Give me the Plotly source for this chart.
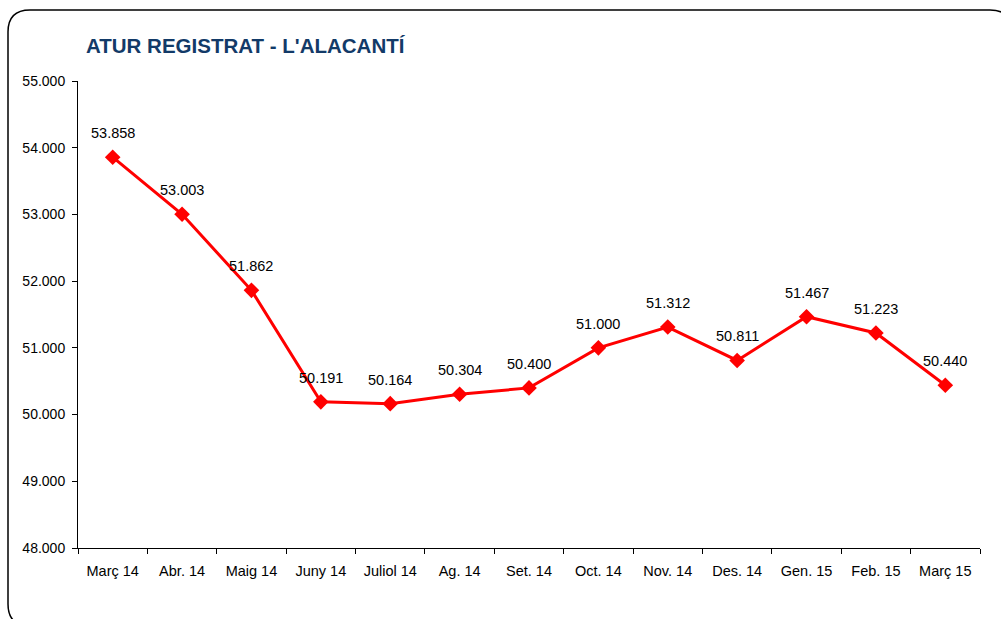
import plotly.graph_objects as go

# Registered unemployment, l'Alacantí, monthly
months = ["Març 14", "Abr. 14", "Maig 14", "Juny 14", "Juliol 14", "Ag. 14", "Set. 14",
          "Oct. 14", "Nov. 14", "Des. 14", "Gen. 15", "Feb. 15", "Març 15"]
atur = [53858, 53003, 51862, 50191, 50164, 50304, 50400, 51000, 51312, 50811, 51467, 51223, 50440]
y_ticks = [48000, 49000, 50000, 51000, 52000, 53000, 54000, 55000]


def fmt(v):
    return f"{v:,}".replace(",", ".")


W, H = 1001, 619
L, R, T, B = 78, 980, 81, 548  # plot area in pixels


def px(x):
    return (x - L) / (R - L)


def py(y):
    return (B - y) / (B - T)


FONT = "Liberation Sans, Arial"

fig = go.Figure()
fig.add_trace(go.Scatter(
    x=months, y=atur, mode="lines+markers",
    line=dict(color="#FF0000", width=3),
    marker=dict(symbol="diamond", size=12, color="#FF0000"),
    hoverinfo="skip",
))

for m, v in zip(months, atur):
    fig.add_annotation(x=m, y=v, text=fmt(v), showarrow=False, yshift=24,
                       font=dict(family=FONT, size=14.5, color="#000000"))

# rounded frame around the chart
x0, x1, y0, y1, r = 8, 1012, 10, 626, 22
path = (f"M {px(x0 + r)} {py(y0)} L {px(x1 - r)} {py(y0)} "
        f"Q {px(x1)} {py(y0)} {px(x1)} {py(y0 + r)} L {px(x1)} {py(y1 - r)} "
        f"Q {px(x1)} {py(y1)} {px(x1 - r)} {py(y1)} L {px(x0 + r)} {py(y1)} "
        f"Q {px(x0)} {py(y1)} {px(x0)} {py(y1 - r)} L {px(x0)} {py(y0 + r)} "
        f"Q {px(x0)} {py(y0)} {px(x0 + r)} {py(y0)} Z")
fig.add_shape(type="path", path=path, xref="paper", yref="paper",
              line=dict(color="#000000", width=1.5), layer="above")

fig.add_annotation(x=px(84), y=py(45), xref="paper", yref="paper", xanchor="left",
                   yanchor="middle", showarrow=False,
                   text="<b>ATUR REGISTRAT - L'ALACANTÍ</b>",
                   font=dict(family=FONT, size=20.5, color="#123A68"))

fig.update_layout(
    width=W, height=H,
    margin=dict(l=L, r=W - R, t=T, b=H - B),
    paper_bgcolor="white", plot_bgcolor="white",
    showlegend=False,
    font=dict(family=FONT, size=14, color="#000000"),
    xaxis=dict(
        type="category", showgrid=False, showline=True, linecolor="#000000", linewidth=1,
        ticks="outside", tickson="boundaries", ticklen=5, tickcolor="#000000",
        tickfont=dict(size=14.5), range=[-0.5, len(months) - 0.5],
        ticklabelstandoff=10,
    ),
    yaxis=dict(
        range=[48000, 55000], tickvals=y_ticks, ticktext=[fmt(v) for v in y_ticks],
        showgrid=False, zeroline=False, showline=True, linecolor="#000000", linewidth=1,
        ticks="outside", ticklen=5, tickcolor="#000000", tickfont=dict(size=14),
        ticklabelstandoff=4,
    ),
)

fig.write_html("out.html")
